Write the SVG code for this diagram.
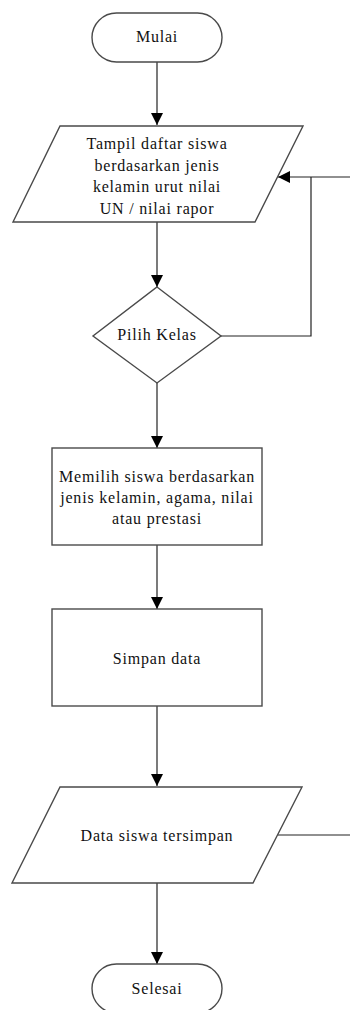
<svg xmlns="http://www.w3.org/2000/svg" width="350" height="1010" viewBox="0 0 350 1010" font-family="'Liberation Serif', 'Times New Roman', serif">
  <style>
    .shape { fill: #ffffff; stroke: #4a4a4a; stroke-width: 1.4; }
    .label { font-family: 'Liberation Serif', 'Times New Roman', serif; font-size: 16px; letter-spacing: 0.8px; fill: #111111; text-anchor: middle; }
    .conn { fill: none; stroke: #222222; stroke-width: 1.2; }
  </style>
  <defs>
    <marker id="arrow" viewBox="0 0 12 12" refX="12" refY="6" markerWidth="12" markerHeight="12" markerUnits="userSpaceOnUse" orient="auto">
      <path d="M0,0 L12,6 L0,12 Z" fill="#000000"/>
    </marker>
  </defs>
  <rect width="350" height="1010" fill="#ffffff"/>

  <!-- connectors -->
  <g id="connectors">
    <path class="conn" d="M157,62 V125" marker-end="url(#arrow)"/>
    <path class="conn" d="M157,222 V287" marker-end="url(#arrow)"/>
    <path class="conn" d="M157,383 V448" marker-end="url(#arrow)"/>
    <path class="conn" d="M157,545 V609" marker-end="url(#arrow)"/>
    <path class="conn" d="M157,706 V786" marker-end="url(#arrow)"/>
    <path class="conn" d="M157,883 V964" marker-end="url(#arrow)"/>
    <!-- loop back from the decision to the list display -->
    <path class="conn" d="M221,336 H311 V177"/>
    <path class="conn" d="M350,177 H278" marker-end="url(#arrow)"/>
    <!-- outgoing line from the saved-data output -->
    <path class="conn" d="M278,835 H350"/>
  </g>

  <g id="mulai">
    <rect class="shape" x="92" y="13" width="130" height="49" rx="24.5" ry="24.5"/>
    <text class="label" x="157" y="42">Mulai</text>
  </g>

  <g id="tampil-daftar">
    <polygon class="shape" points="60,126 303,126 255,222 13,222"/>
    <text class="label" x="157" y="149">Tampil daftar siswa</text>
    <text class="label" x="157" y="171">berdasarkan jenis</text>
    <text class="label" x="157" y="192">kelamin urut nilai</text>
    <text class="label" x="157" y="214">UN / nilai rapor</text>
  </g>

  <g id="pilih-kelas">
    <polygon class="shape" points="157,287 221,336 157,383 93,336"/>
    <text class="label" x="157" y="340">Pilih Kelas</text>
  </g>

  <g id="memilih-siswa">
    <rect class="shape" x="52" y="448" width="210" height="97"/>
    <text class="label" x="157" y="482">Memilih siswa berdasarkan</text>
    <text class="label" x="157" y="503">jenis kelamin, agama, nilai</text>
    <text class="label" x="157" y="524">atau prestasi</text>
  </g>

  <g id="simpan-data">
    <rect class="shape" x="52" y="609" width="210" height="97"/>
    <text class="label" x="157" y="664">Simpan data</text>
  </g>

  <g id="data-tersimpan">
    <polygon class="shape" points="60,787 302,787 253,883 12,883"/>
    <text class="label" x="157" y="841">Data siswa tersimpan</text>
  </g>

  <g id="selesai">
    <rect class="shape" x="92" y="964" width="130" height="49" rx="24.5" ry="24.5"/>
    <text class="label" x="157" y="994">Selesai</text>
  </g>
</svg>
